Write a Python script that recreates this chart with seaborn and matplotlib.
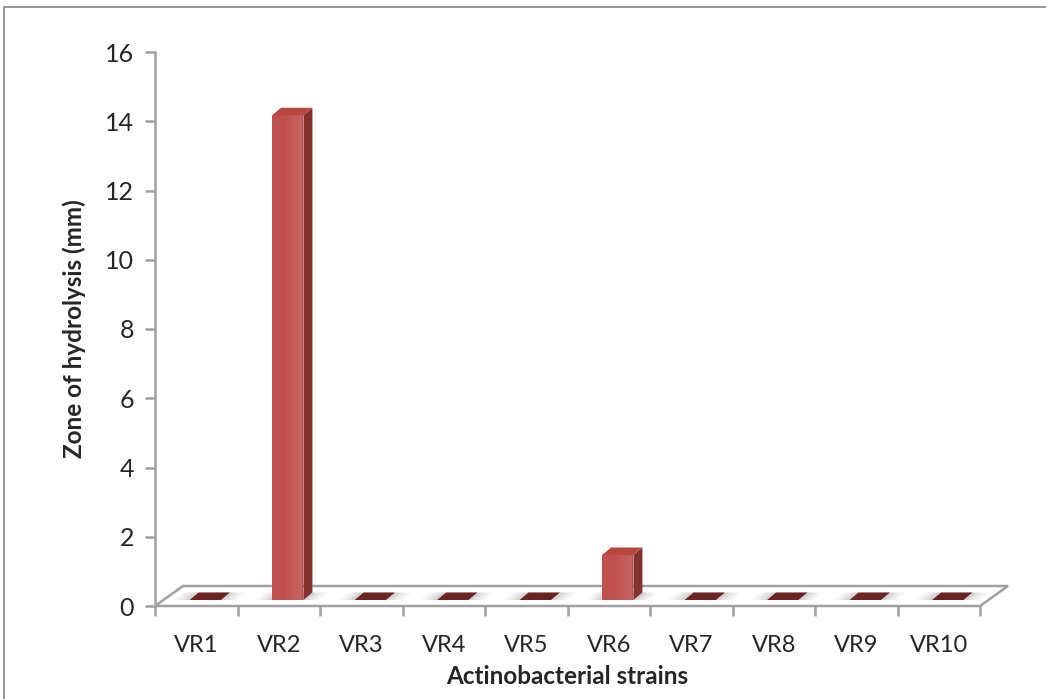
import matplotlib
matplotlib.use("Agg")
import matplotlib.pyplot as plt
import seaborn as sns
import numpy as np
import pandas as pd
from matplotlib.patches import Polygon, Rectangle
from matplotlib.transforms import offset_copy

# ---- data -------------------------------------------------------------
strains = ["VR1", "VR2", "VR3", "VR4", "VR5", "VR6", "VR7", "VR8", "VR9", "VR10"]
zone_mm = [0, 14, 0, 0, 0, 1.3, 0, 0, 0, 0]
y_ticks = [0, 2, 4, 6, 8, 10, 12, 14, 16]

x_title = "Actinobacterial strains"
y_title = "Zone of hydrolysis (mm)"

# ---- style ------------------------------------------------------------
sns.set_style("white")
plt.rcParams["font.family"] = ["Lato", "DejaVu Sans"]

FRONT = "#c0504d"
SIDE = "#833230"
TOP = "#b9463f"
FLAT = "#6c2321"
AXIS_GREY = "#a0a0a0"

W, H = 1046, 699
fig = plt.figure(figsize=(W / 100, H / 100), dpi=100)
fig.patch.set_facecolor("white")

# plot area (front plane of the floor)
left, right, bottom, top = 155, 980, 606, 52
ax = fig.add_axes([left / W, 1 - bottom / H, (right - left) / W, (bottom - top) / H])

df = pd.DataFrame({"strain": strains, "zone": zone_mm})
sns.barplot(data=df, x="strain", y="zone", color=FRONT, width=0.38,
            saturation=1, ax=ax, zorder=5)
ax.set_xlim(-0.5, len(strains) - 0.5)
ax.set_ylim(0, 16)

# pixel -> data conversions (linear axes)
px_x = (len(strains)) / (right - left)
px_y = 16 / (bottom - top)

# floor of the 3-D box
fdx, fdy = 28 * px_x, 20 * px_y
x0, x1 = -0.5, len(strains) - 0.5
floor = Polygon([(x0, 0), (x1, 0), (x1 + fdx, fdy), (x0 + fdx, fdy)],
                closed=True, facecolor="white", edgecolor=AXIS_GREY,
                linewidth=1.8, clip_on=False, zorder=1)
ax.add_patch(floor)

# bars sit a third of the way into the floor depth
shift = offset_copy(ax.transData, fig=fig, x=9, y=6, units="dots")
bdx, bdy = 9 * px_x, 7.5 * px_y

for patch, val in zip(ax.patches[:len(strains)], zone_mm):
    xl = patch.get_x()
    bw = patch.get_width()
    xr = xl + bw
    # soft grey shadow on the floor around each column base
    for k, a in enumerate([0.05, 0.06, 0.08, 0.10]):
        grow = (4 - k) * 4 * px_x
        ax.add_patch(Polygon([(xl - grow, 0), (xr + grow, 0),
                              (xr + grow + bdx, bdy), (xl - grow + bdx, bdy)],
                             closed=True, facecolor="#606060", edgecolor="none",
                             alpha=a, transform=shift, clip_on=False, zorder=2))
    if val <= 0:
        patch.set_visible(False)
        ax.add_patch(Polygon([(xl, 0), (xr, 0), (xr + bdx, bdy), (xl + bdx, bdy)],
                             closed=True, facecolor=FLAT, edgecolor="none",
                             transform=shift, clip_on=False, zorder=4))
        continue
    patch.set_transform(shift)
    patch.set_clip_on(False)
    patch.set_edgecolor("none")
    # gentle sheen towards the right of the front face
    for k in range(6):
        ax.add_patch(Rectangle((xl + bw * (0.45 + 0.08 * k), 0), bw * (0.5 - 0.08 * k), val,
                               facecolor="white", edgecolor="none", alpha=0.018,
                               transform=shift, clip_on=False, zorder=6))
    # right side face
    ax.add_patch(Polygon([(xr, 0), (xr + bdx, bdy), (xr + bdx, val + bdy), (xr, val)],
                         closed=True, facecolor=SIDE, edgecolor="none",
                         transform=shift, clip_on=False, zorder=6))
    # top face
    ax.add_patch(Polygon([(xl, val), (xr, val), (xr + bdx, val + bdy), (xl + bdx, val + bdy)],
                         closed=True, facecolor=TOP, edgecolor="none",
                         transform=shift, clip_on=False, zorder=6))

# axes, ticks and labels
for s in ["top", "right", "bottom"]:
    ax.spines[s].set_visible(False)
ax.spines["left"].set_color(AXIS_GREY)
ax.spines["left"].set_linewidth(1.8)
ax.spines["left"].set_zorder(3)

ax.set_yticks(y_ticks)
ax.set_yticklabels([str(t) for t in y_ticks])
ax.set_xticks(np.arange(-0.5, len(strains), 1.0), minor=False)
ax.set_xticklabels([])
ax.set_xticks(np.arange(len(strains)), minor=True)
ax.set_xticklabels(strains, minor=True)
ax.tick_params(axis="x", which="major", length=7, width=1.8, color=AXIS_GREY,
               direction="out", bottom=True)
ax.tick_params(axis="x", which="minor", length=0, pad=21, labelsize=17)
ax.tick_params(axis="y", length=7, width=1.8, color=AXIS_GREY, direction="out",
               left=True, labelsize=18, pad=8)

ax.set_xlabel(x_title, fontsize=17.5, fontweight="bold", labelpad=6)
ax.set_ylabel(y_title, fontsize=17.5, fontweight="bold", labelpad=14)

# chart border
fig.add_artist(Rectangle((4 / W, -0.05), 1.2, 1 - 7 / H + 0.05,
                         transform=fig.transFigure, fill=False,
                         edgecolor="#8c8c8c", linewidth=1.3))

fig.savefig("out.png", dpi=100)
